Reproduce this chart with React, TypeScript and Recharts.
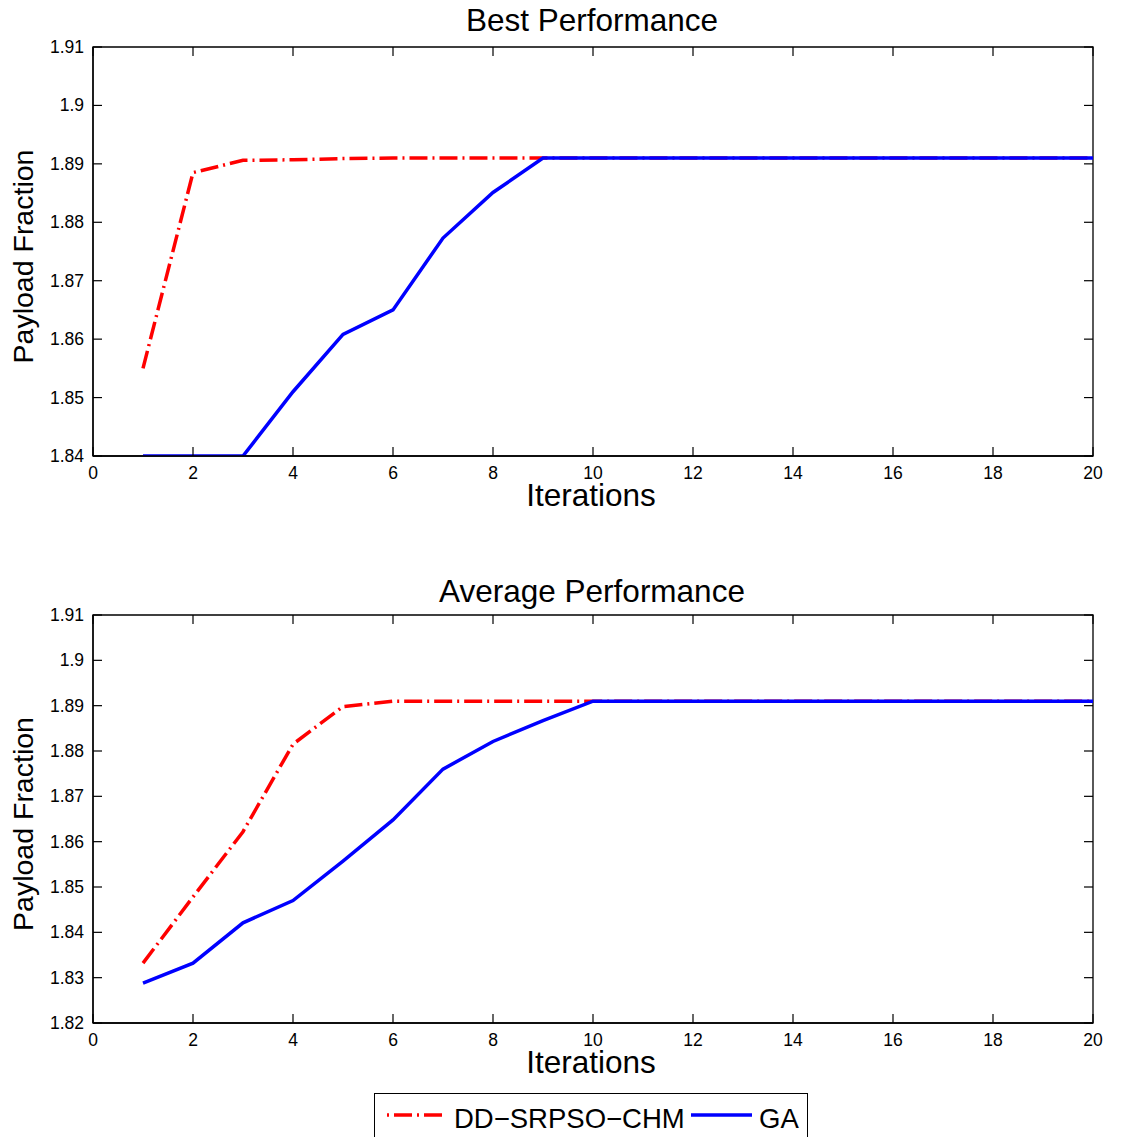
import React from 'react'
import { LineChart, Line, XAxis, YAxis, ReferenceArea } from 'recharts'

const iterations = [1, 2, 3, 4, 5, 6, 7, 8, 9, 10, 11, 12, 13, 14, 15, 16, 17, 18, 19, 20]

const bestDD = [1.855, 1.8885, 1.8906, 1.8907, 1.8909, 1.891, 1.891, 1.891, 1.891, 1.891, 1.891, 1.891, 1.891, 1.891, 1.891, 1.891, 1.891, 1.891, 1.891, 1.891]
const bestGA = [1.84, 1.84, 1.84, 1.851, 1.8608, 1.865, 1.8773, 1.8851, 1.891, 1.891, 1.891, 1.891, 1.891, 1.891, 1.891, 1.891, 1.891, 1.891, 1.891, 1.891]

const avgDD = [1.8332, 1.8478, 1.8622, 1.8815, 1.8898, 1.891, 1.891, 1.891, 1.891, 1.891, 1.891, 1.891, 1.891, 1.891, 1.891, 1.891, 1.891, 1.891, 1.891, 1.891]
const avgGA = [1.8288, 1.8332, 1.8421, 1.847, 1.8557, 1.8648, 1.876, 1.8821, 1.8867, 1.891, 1.891, 1.891, 1.891, 1.891, 1.891, 1.891, 1.891, 1.891, 1.891, 1.891]

const xTicks = [0, 2, 4, 6, 8, 10, 12, 14, 16, 18, 20]
const bestYTicks = [1.84, 1.85, 1.86, 1.87, 1.88, 1.89, 1.9, 1.91]
const avgYTicks = [1.82, 1.83, 1.84, 1.85, 1.86, 1.87, 1.88, 1.89, 1.9, 1.91]

const FONT = '"Liberation Sans", Arial, Helvetica, sans-serif'
const RED = '#ff0000'
const BLUE = '#0000ff'
const DASHDOT = '18 5 2 5'

const bestData = iterations.map((it, i) => ({ it, dd: bestDD[i], ga: bestGA[i] }))
const avgData = iterations.map((it, i) => ({ it, dd: avgDD[i], ga: avgGA[i] }))

// MATLAB style inward ticks on all four sides
const makeXTick = (top: number) => (props: any) => {
    const { x, y, payload } = props
    return (
        <g>
            <line x1={x} x2={x} y1={y} y2={y - 9} stroke="#000" strokeWidth={1.2} />
            <line x1={x} x2={x} y1={top} y2={top + 9} stroke="#000" strokeWidth={1.2} />
            <text x={x} y={y + 23} textAnchor="middle" fontSize={17.5} fontFamily={FONT} fill="#000">
                {payload.value}
            </text>
        </g>
    )
}

const makeYTick = (right: number) => (props: any) => {
    const { x, y, payload } = props
    return (
        <g>
            <line x1={x} x2={x + 9} y1={y} y2={y} stroke="#000" strokeWidth={1.2} />
            <line x1={right} x2={right - 9} y1={y} y2={y} stroke="#000" strokeWidth={1.2} />
            <text x={x - 9} y={y + 6} textAnchor="end" fontSize={17.5} fontFamily={FONT} fill="#000">
                {String(Number(payload.value.toFixed(2)))}
            </text>
        </g>
    )
}

function Panel({ title, data, yTicks, height, top, xAxisHeight, titleGap }: any) {
    const yMin = yTicks[0]
    const yMax = yTicks[yTicks.length - 1]
    const plotH = height - top - xAxisHeight
    const labelY = top + plotH / 2 + 5
    return (
        <LineChart
            width={1121}
            height={height}
            data={data}
            margin={{ top: top, right: 28, bottom: 0, left: 0 }}
            style={{ fontFamily: FONT }}
        >
            <XAxis
                dataKey="it"
                type="number"
                domain={[0, 20]}
                ticks={xTicks}
                height={xAxisHeight}
                tickSize={0}
                tickMargin={0}
                tickLine={false}
                axisLine={{ stroke: '#000', strokeWidth: 1.3 }}
                tick={makeXTick(top)}
                interval={0}
                label={{
                    content: (p: any) => (
                        <text
                            x={p.viewBox.x + p.viewBox.width / 2 - 2}
                            y={p.viewBox.y + 50}
                            textAnchor="middle"
                            fontSize={31.5}
                            fontFamily={FONT}
                            fill="#000"
                        >
                            Iterations
                        </text>
                    ),
                }}
            />
            <YAxis
                type="number"
                domain={[yMin, yMax]}
                ticks={yTicks}
                width={93}
                tickSize={0}
                tickMargin={0}
                tickLine={false}
                allowDataOverflow
                interval={0}
                axisLine={{ stroke: '#000', strokeWidth: 1.3 }}
                tick={makeYTick(1093)}
            />
            <ReferenceArea x1={0} x2={20} y1={yMin} y2={yMax} fill="none" stroke="#000" strokeWidth={1.3} />
            <Line
                type="linear"
                dataKey="dd"
                stroke={RED}
                strokeWidth={3.5}
                strokeDasharray={DASHDOT}
                dot={false}
                isAnimationActive={false}
            />
            <Line
                type="linear"
                dataKey="ga"
                stroke={BLUE}
                strokeWidth={3.5}
                dot={false}
                isAnimationActive={false}
            />
            <text x={592} y={top - titleGap} textAnchor="middle" fontSize={31.5} fontFamily={FONT} fill="#000">
                {title}
            </text>
            <text
                x={33}
                y={labelY}
                textAnchor="middle"
                fontSize={28.5}
                fontFamily={FONT}
                fill="#000"
                transform={`rotate(-90, 33, ${labelY})`}
            >
                Payload Fraction
            </text>
        </LineChart>
    )
}

export default function App() {
    return (
        <div style={{ position: 'absolute', left: 0, top: 0, width: 1121, height: 1137, background: '#fff', overflow: 'hidden' }}>
            <div style={{ position: 'absolute', left: 0, top: 0 }}>
                <Panel title="Best Performance" data={bestData} yTicks={bestYTicks} height={560} top={47} xAxisHeight={104} titleGap={16} />
            </div>
            <div style={{ position: 'absolute', left: 0, top: 560 }}>
                <Panel title="Average Performance" data={avgData} yTicks={avgYTicks} height={577} top={55} xAxisHeight={114} titleGap={13} />
            </div>
            <div
                style={{
                    position: 'absolute',
                    left: 374,
                    top: 1093,
                    width: 434,
                    height: 50,
                    border: '1px solid #000',
                    background: '#fff',
                    boxSizing: 'border-box',
                }}
            >
                <svg width={434} height={50}>
                    <line x1={12} x2={70} y1={21} y2={21} stroke={RED} strokeWidth={3.5} strokeDasharray="2 5 18 5" />
                    <text x={79} y={34} fontSize={27.5} fontFamily={FONT} fill="#000">DD−SRPSO−CHM</text>
                    <line x1={316} x2={377} y1={21} y2={21} stroke={BLUE} strokeWidth={3.5} />
                    <text x={384} y={34} fontSize={27.5} fontFamily={FONT} fill="#000">GA</text>
                </svg>
            </div>
        </div>
    )
}
